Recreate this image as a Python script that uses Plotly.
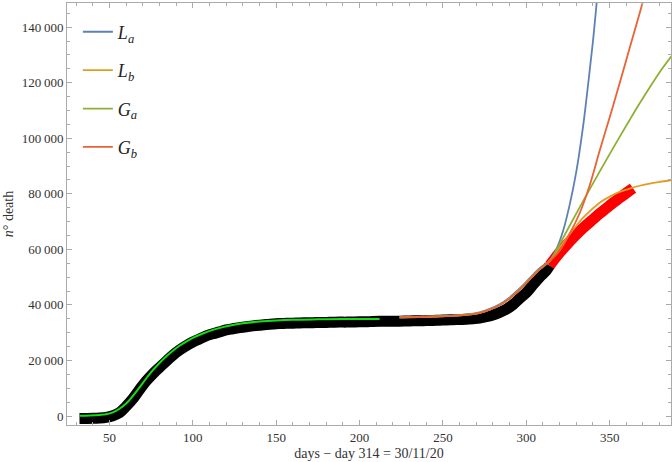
import plotly.graph_objects as go

# observed deaths (band centre as drawn), black part up to day 314
days_obs = [32, 36, 40, 44, 48, 52, 56, 60, 64, 68, 72, 76, 80, 84, 88, 92, 96, 100,
            104, 108, 112, 116, 120, 124, 128, 132, 136, 140, 144, 148, 152, 156, 160,
            164, 168, 172, 176, 180, 184, 188, 192, 196, 200, 204, 208, 212, 216, 220,
            224, 228, 232, 236, 240, 244, 248, 252, 256, 260, 264, 268, 272, 276, 280,
            284, 288, 292, 296, 300, 304, 308, 312, 314]
deaths_obs = [-900, -880, -850, -750, -500, 100, 1200, 3500, 6200, 9500, 12600, 15200,
              17500, 19700, 21900, 23750, 25300, 26650, 27750, 28850, 29600, 30300,
              31000, 31400, 31800, 32150, 32450, 32700, 32950, 33100, 33300, 33350,
              33400, 33500, 33550, 33600, 33650, 33700, 33750, 33800, 33800, 33850,
              33900, 33900, 34050, 34100, 34100, 34150, 34150, 34200, 34250, 34300,
              34350, 34400, 34500, 34550, 34650, 34750, 34850, 35050, 35300, 35750,
              36400, 37300, 38450, 40100, 42300, 44400, 47250, 50000, 52400, 54200]

# observed deaths after day 314 (red)
days_new = [314, 317, 320, 324, 328, 332, 336, 340, 344, 348, 352, 356, 360, 364]
deaths_new = [54200, 56600, 58800, 61500, 64100, 66500, 68700, 70800, 72900, 74800,
              76700, 78500, 80300, 82000]

# first-wave fit (green)
days_fit1 = [32, 38, 44, 48, 52, 56, 60, 64, 68, 72, 76, 80, 84, 88, 92, 96, 100, 106,
             112, 118, 124, 130, 140, 150, 160, 175, 190, 212]
deaths_fit1 = [100, 200, 400, 650, 1300, 2600, 4500, 7200, 10300, 13500, 16500, 19100,
               21400, 23500, 25300, 26800, 28100, 29700, 31000, 32000, 32800, 33400,
               34000, 34400, 34650, 34800, 34900, 34950]

# second-wave models
days_pre = [224, 236, 248, 260, 268, 272, 278, 284, 290, 296, 302, 308]
common_pre = [35500, 35650, 35850, 36200, 36650, 37100, 38300, 39900, 42300, 45500,
              49200, 52800]

days_La = days_pre + [314, 318, 322, 326, 330, 334, 337, 340, 343]
La = [35500, 35700, 35950, 36350, 36850, 37300, 38550, 40200, 42700, 45900, 49600,
      53200] + [56000, 60000, 66500, 76000, 88000, 104000, 119000, 135000, 154000]

days_Lb = days_pre + [314, 318, 322, 326, 330, 334, 338, 344, 350, 356, 362, 368, 374,
                      380, 387]
Lb = common_pre + [55800, 59000, 62300, 65500, 68500, 71300, 73700, 76800, 79000,
                   80700, 81900, 82900, 83700, 84300, 84900]

days_Ga = days_pre + [314, 320, 326, 332, 338, 344, 350, 356, 362, 368, 374, 380, 387]
Ga = common_pre + [55800, 61800, 68500, 75100, 81600, 88000, 94300, 100500, 106600,
                   112600, 118300, 123800, 129500]

days_Gb = days_pre + [314, 320, 326, 332, 338, 344, 350, 356, 362, 368, 371]
Gb = common_pre + [55800, 59500, 65600, 73000, 83000, 95500, 107500, 119800, 132500,
                   145000, 151500]

fig = go.Figure()

fig.add_trace(go.Scatter(x=days_obs, y=deaths_obs, mode='lines',
                         line=dict(color='black', width=11, shape='spline'),
                         showlegend=False))
fig.add_trace(go.Scatter(x=days_new, y=deaths_new, mode='lines',
                         line=dict(color='#ff0000', width=11, shape='spline'),
                         showlegend=False))
fig.add_trace(go.Scatter(x=days_fit1, y=deaths_fit1, mode='lines',
                         line=dict(color='#10e010', width=2, shape='spline'),
                         showlegend=False))

models = [
    ('<i>L<sub>a</sub></i>', days_La, La, '#5e81b5'),
    ('<i>L<sub>b</sub></i>', days_Lb, Lb, '#e19c24'),
    ('<i>G<sub>a</sub></i>', days_Ga, Ga, '#8fb032'),
    ('<i>G<sub>b</sub></i>', days_Gb, Gb, '#eb6235'),
]
for name, xs, ys, col in models:
    fig.add_trace(go.Scatter(x=xs, y=ys, mode='lines', name=name, legendgroup=name,
                             line=dict(color=col, width=1.8, shape='spline')))

axis_common = dict(
    showgrid=False, zeroline=False, showline=True, linecolor='#aaaaaa', linewidth=1,
    mirror='ticks', ticks='inside', ticklen=5, tickcolor='#aaaaaa',
    tickfont=dict(family='Liberation Serif', size=13, color='#333333'),
)

fig.update_layout(
    width=672, height=462,
    margin=dict(l=67, r=1, t=3, b=37),
    plot_bgcolor='white', paper_bgcolor='white',
    separators='.\u2009',
    font=dict(family='Liberation Serif', color='#333333'),
    xaxis=dict(range=[24.5, 386.8], dtick=50, tick0=0,
               minor=dict(dtick=10, ticks='inside', ticklen=3, tickcolor='#aaaaaa'),
               title=dict(text='days \u2212 day 314 = 30/11/20',
                          font=dict(family='Liberation Serif', size=14, color='#333333'),
                          standoff=4),
               **axis_common),
    yaxis=dict(range=[-3240, 148700], dtick=20000, tick0=0, tickformat=',d',
               minor=dict(dtick=5000, ticks='inside', ticklen=3, tickcolor='#aaaaaa'),
               title=dict(text='<i>n</i>\u00b0 death',
                          font=dict(family='Liberation Serif', size=14, color='#333333'),
                          standoff=4),
               **axis_common),
    legend=dict(x=0.018, y=0.975, xanchor='left', yanchor='top',
                bgcolor='rgba(0,0,0,0)', tracegroupgap=12,
                font=dict(family='Liberation Serif', size=18, color='#222222')),
)

# drop the page's default body margin so the figure sits at the window origin
fig.write_html("out.html", config={'displayModeBar': False},
               post_script="document.body.style.margin='0';")
